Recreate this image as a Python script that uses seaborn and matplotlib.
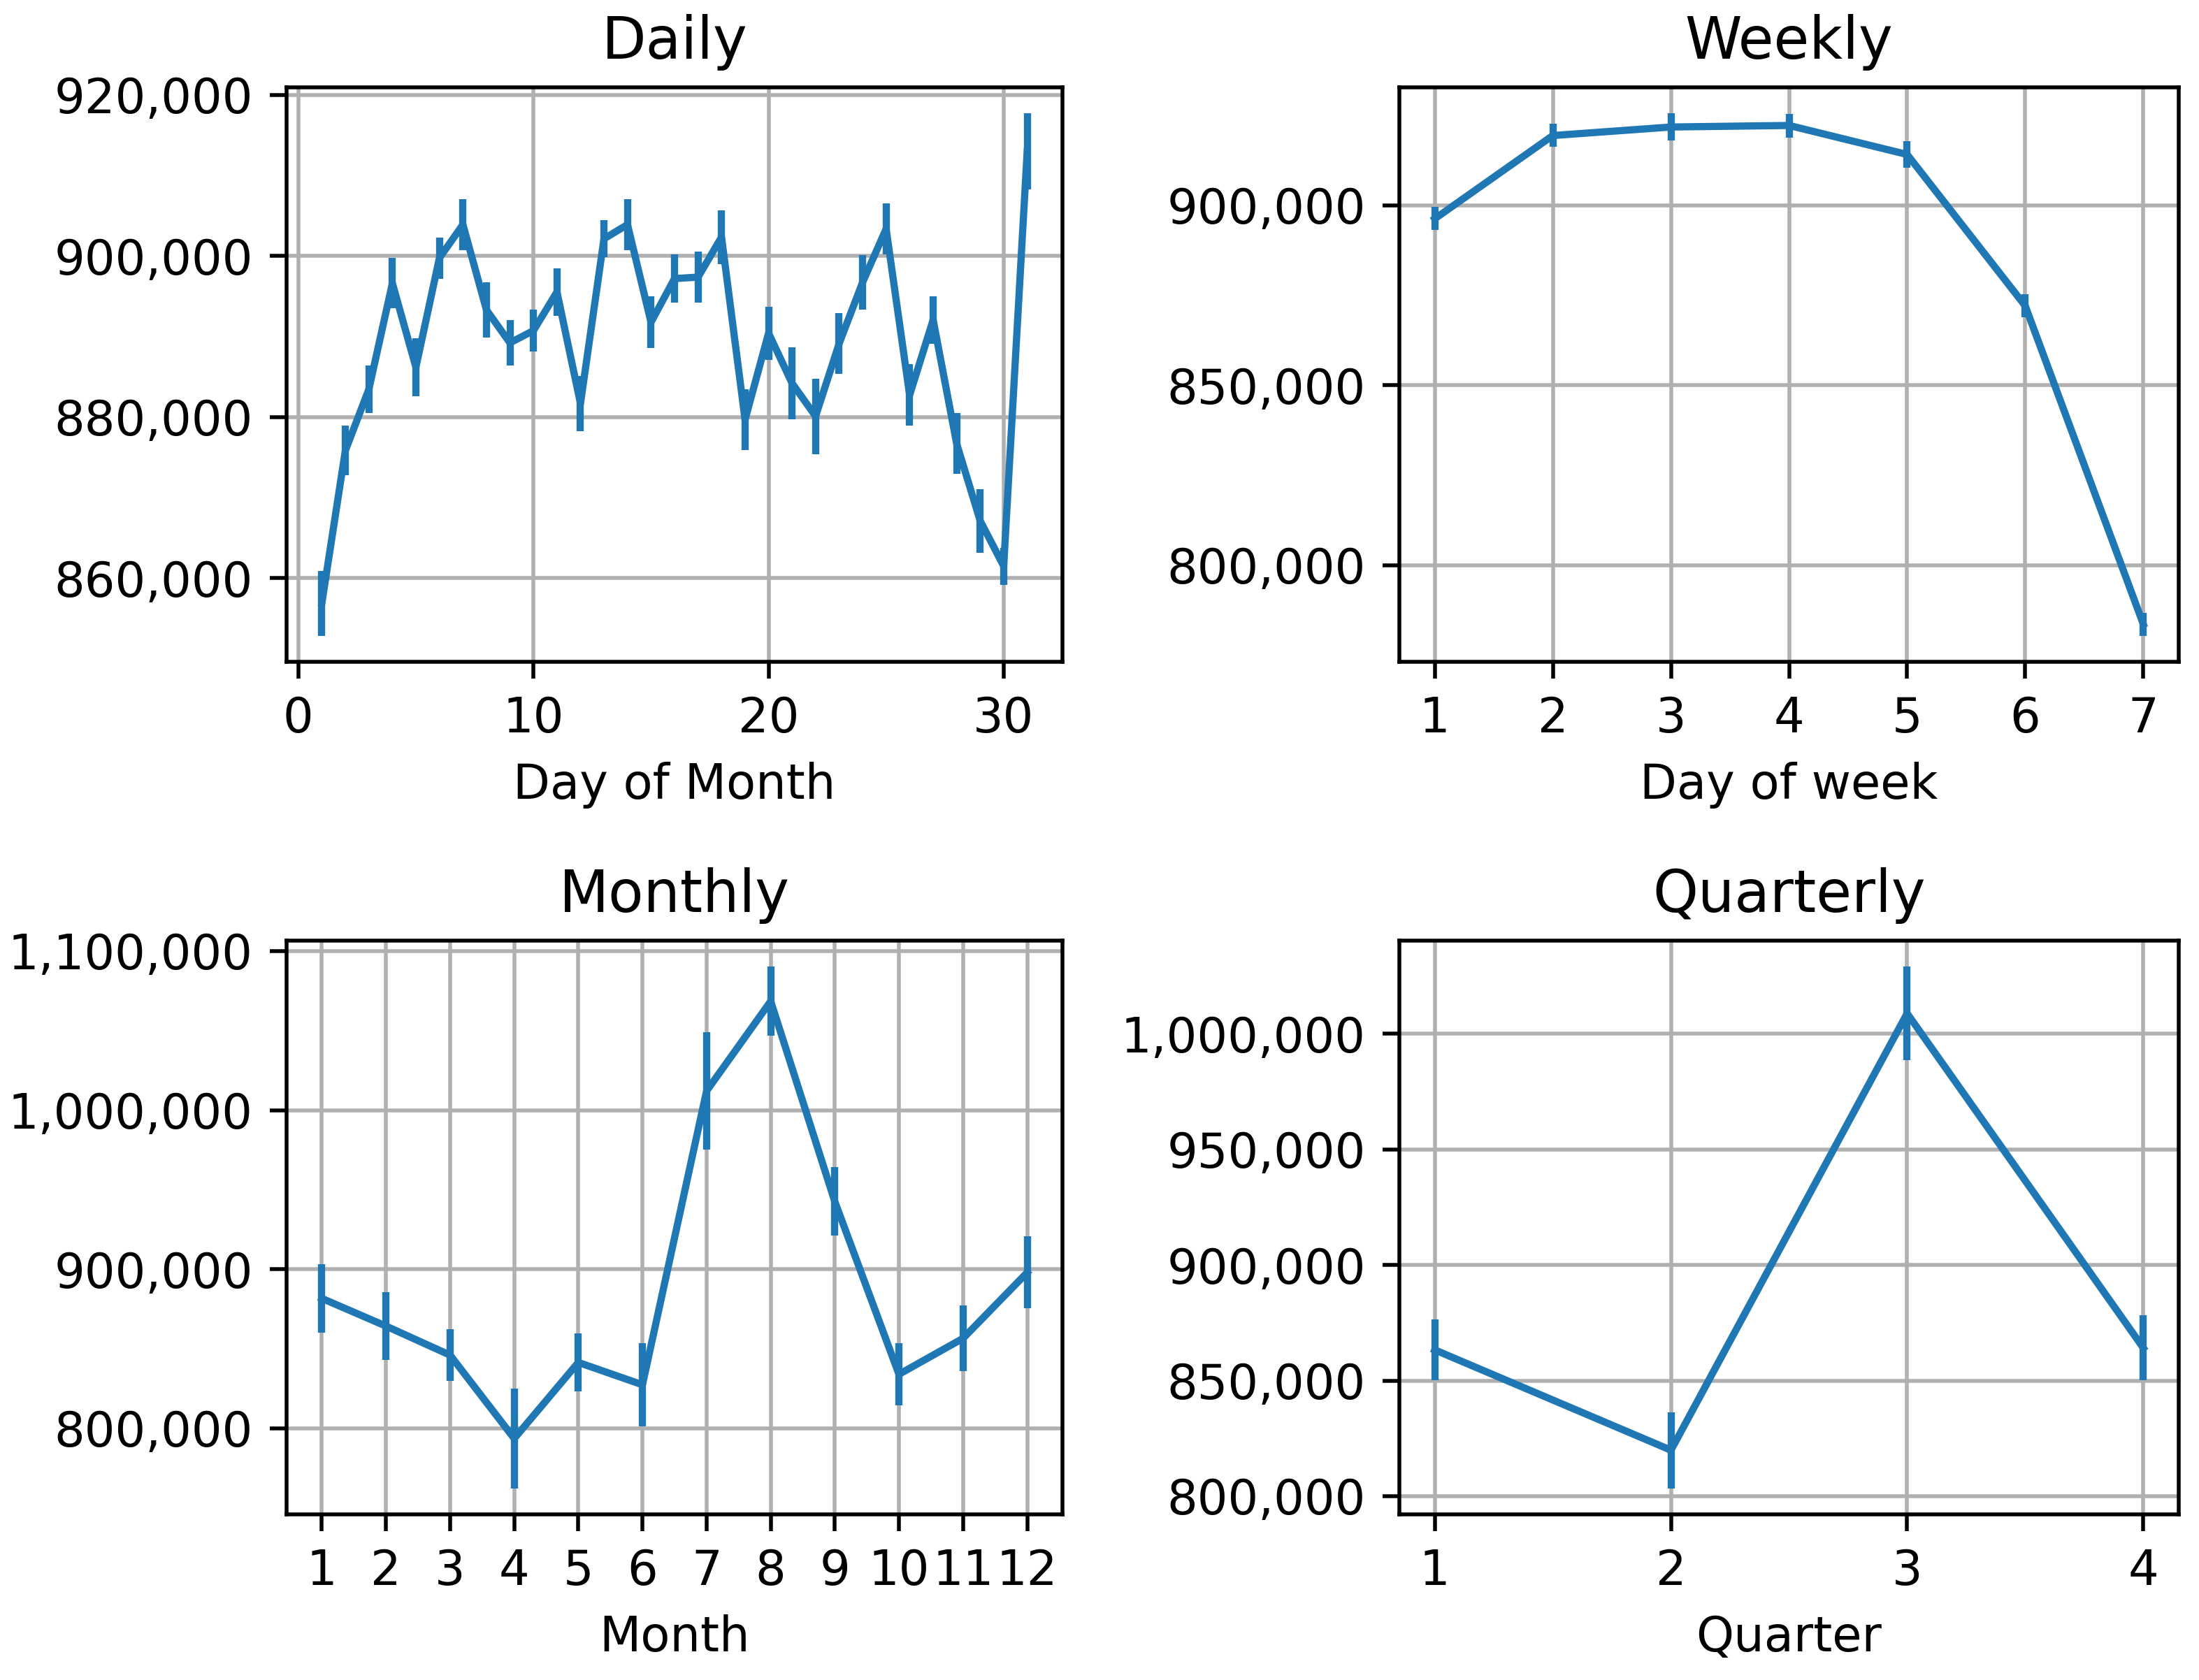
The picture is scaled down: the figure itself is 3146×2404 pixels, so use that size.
import matplotlib
matplotlib.use("Agg")
import matplotlib.pyplot as plt
from matplotlib.ticker import StrMethodFormatter, MultipleLocator
import seaborn as sns
import numpy as np

plt.rcParams['font.family'] = ['DejaVu Sans']
plt.rcParams['font.size'] = 10

# ---- data (mean and half-width of the interval) ----
days = list(range(1, 32))
daily_mean = [856900, 875850, 883460, 896620, 886190, 899760, 903900, 893310,
              889220, 890740, 895540, 881690, 902140, 903900, 891780, 897200,
              897380, 902340, 879690, 890420, 884200, 880110, 889120, 896740,
              903370, 882740, 892080, 876700, 867130, 861500, 913000]
daily_err = [4040, 3060, 2970, 3120, 3590, 2550, 3160, 3420, 2790, 2570, 2970,
             3440, 2320, 3160, 3200, 2970, 3170, 3370, 3810, 3310, 4460, 4680,
             3780, 3370, 3190, 3810, 2950, 3780, 3960, 2300, 4700]

weekdays = [1, 2, 3, 4, 5, 6, 7]
weekly_mean = [896240, 919350, 921720, 922150, 914090, 872040, 783600]
weekly_err = [3200, 3200, 3760, 3300, 3650, 3200, 3200]

months = list(range(1, 13))
monthly_mean = [881620, 864220, 845960, 793540, 841370, 827330, 1012050,
                1068450, 942490, 833910, 856520, 897890]
monthly_err = [21500, 21500, 16100, 31300, 18300, 26100, 36900, 21700, 21500,
               19500, 20500, 22600]

quarters = [1, 2, 3, 4]
quarterly_mean = [863280, 819900, 1008880, 864140]
quarterly_err = [13200, 16500, 20200, 14100]

titles = ["Daily", "Weekly", "Monthly", "Quarterly"]
xlabels = ["Day of Month", "Day of week", "Month", "Quarter"]

W, H = 3146, 2404
dpi = 495
fig = plt.figure(figsize=(W / dpi, H / dpi), dpi=dpi)

def box(l, r, t, b):
    return [l / W, 1 - b / H, (r - l) / W, (b - t) / H]

rects = [box(410, 1520, 125, 947), box(2002, 3117, 125, 947),
         box(410, 1520, 1346, 2167), box(2002, 3117, 1346, 2167)]

panels = [
    (days, daily_mean, daily_err, None, 20000),
    (weekdays, weekly_mean, weekly_err, weekdays, 50000),
    (months, monthly_mean, monthly_err, months, 100000),
    (quarters, quarterly_mean, quarterly_err, quarters, 50000),
]

color = "#1f77b4"
for rect, (x, m, e, xt, ystep), title, xl in zip(rects, panels, titles, xlabels):
    ax = fig.add_axes(rect)
    sns.lineplot(x=x, y=m, ax=ax, color=color, linewidth=1.5)
    ax.errorbar(x, m, yerr=e, fmt='none', ecolor=color, elinewidth=1.5)
    ax.set_title(title)
    ax.set_xlabel(xl)
    ax.set_ylabel("")
    ax.grid(True)
    ax.set_axisbelow(True)
    if xt is not None:
        ax.set_xticks(xt)
    ax.yaxis.set_major_locator(MultipleLocator(ystep))
    ax.yaxis.set_major_formatter(StrMethodFormatter('{x:,.0f}'))

fig.savefig("out.png", dpi=dpi)
